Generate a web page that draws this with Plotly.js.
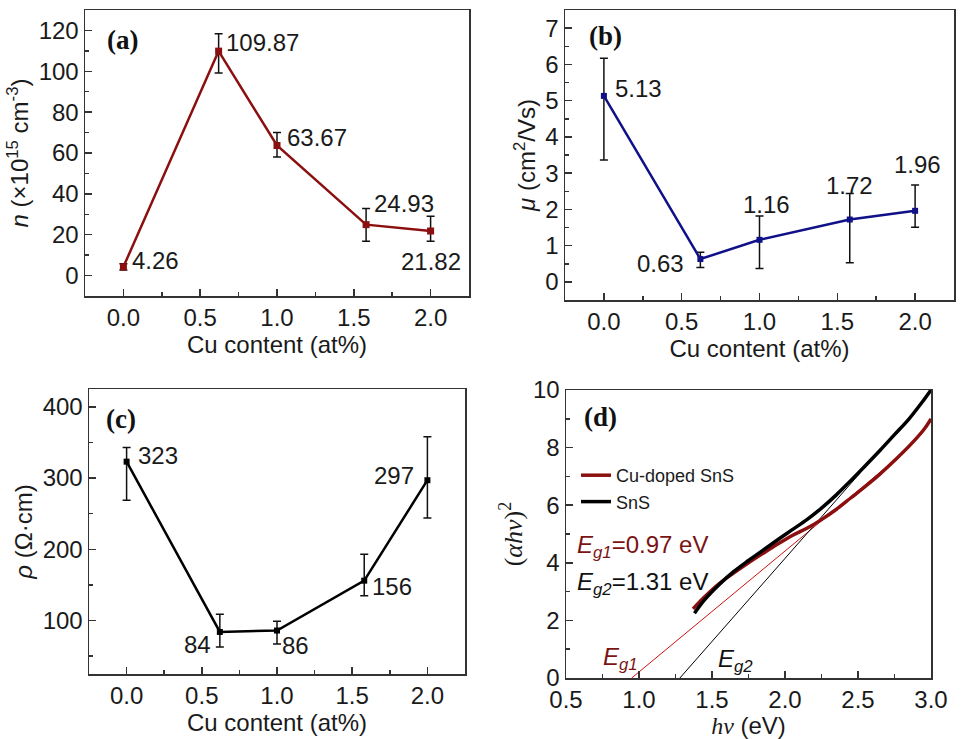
<!DOCTYPE html>
<html>
<head>
<meta charset="utf-8">
<script src="https://cdn.plot.ly/plotly-3.0.1.min.js"></script>
<style>html,body{margin:0;padding:0;background:#fff;}#chart{width:962px;height:739px;}</style>
</head>
<body>
<div id="chart"></div>
<script>
// ---- data ----
const cuContent = [0, 0.62, 1.0, 1.58, 2.0];

const carrierN = [4.26, 109.87, 63.67, 24.93, 21.82];
const carrierNErrPlus = [1.5, 8.5, 6.4, 7.9, 7.2];
const carrierNErrMinus = [1.5, 10.7, 5.6, 8.1, 5.0];
const carrierNLabels = ["4.26", "109.87", "63.67", "24.93", "21.82"];

const mobility = [5.13, 0.63, 1.16, 1.72, 1.96];
const mobilityErrPlus = [1.04, 0.19, 0.66, 0.72, 0.71];
const mobilityErrMinus = [1.77, 0.23, 0.79, 1.19, 0.45];
const mobilityLabels = ["5.13", "0.63", "1.16", "1.72", "1.96"];

const resistivity = [323, 84, 86, 156, 297];
const resistivityErrPlus = [20, 25, 13, 37, 61];
const resistivityErrMinus = [54, 21, 19, 21, 53];
const resistivityLabels = ["323", "84", "86", "156", "297"];

const hvSnS = [1.38, 1.45, 1.55, 1.65, 1.75, 1.85, 1.95, 2.05, 2.15, 2.25, 2.35, 2.45, 2.55, 2.65, 2.75, 2.85, 2.95, 3.0];
const taucSnS = [2.25, 2.72, 3.25, 3.7, 4.08, 4.44, 4.8, 5.15, 5.5, 5.9, 6.35, 6.85, 7.37, 7.9, 8.45, 9.0, 9.65, 10.0];
const hvCu = [1.37, 1.45, 1.55, 1.65, 1.75, 1.85, 1.95, 2.05, 2.15, 2.25, 2.35, 2.45, 2.55, 2.65, 2.75, 2.85, 2.95, 3.0];
const taucCu = [2.4, 2.82, 3.28, 3.65, 4.0, 4.33, 4.65, 4.95, 5.2, 5.5, 5.85, 6.25, 6.65, 7.08, 7.55, 8.05, 8.62, 9.0];
const fitCuX = [0.95, 2.82];
const fitCuY = [0, 7.85];
const fitSnSX = [1.28, 2.52];
const fitSnSY = [0, 7.15];

// ---- styles ----
const SANS = 'Arial, "Liberation Sans", sans-serif';
const SERIF = '"Times New Roman", "Liberation Serif", serif';
const RED = '#8c0f0f';
const BLUE = '#101088';
const AX = '#333333';
const TXT = '#1a1a1a';
const FS = 24;

function eb(plus, minus) {
  return {type: 'data', symmetric: false, array: plus, arrayminus: minus,
          color: '#111', thickness: 1.5, width: 4};
}

const traces = [
  {x: cuContent, y: carrierN, xaxis: 'x', yaxis: 'y', type: 'scatter', mode: 'lines+markers',
   line: {color: RED, width: 2.5}, marker: {symbol: 'square', size: 7, color: RED},
   error_y: eb(carrierNErrPlus, carrierNErrMinus), showlegend: false},
  {x: cuContent, y: mobility, xaxis: 'x2', yaxis: 'y2', type: 'scatter', mode: 'lines+markers',
   line: {color: BLUE, width: 2.5}, marker: {symbol: 'square', size: 6, color: BLUE},
   error_y: eb(mobilityErrPlus, mobilityErrMinus), showlegend: false},
  {x: cuContent, y: resistivity, xaxis: 'x3', yaxis: 'y3', type: 'scatter', mode: 'lines+markers',
   line: {color: '#000', width: 2.5}, marker: {symbol: 'square', size: 6, color: '#000'},
   error_y: eb(resistivityErrPlus, resistivityErrMinus), showlegend: false},
  {x: fitCuX, y: fitCuY, xaxis: 'x4', yaxis: 'y4', type: 'scatter', mode: 'lines',
   line: {color: '#cc1111', width: 1}, showlegend: false},
  {x: fitSnSX, y: fitSnSY, xaxis: 'x4', yaxis: 'y4', type: 'scatter', mode: 'lines',
   line: {color: '#000', width: 1}, showlegend: false},
  {x: hvCu, y: taucCu, xaxis: 'x4', yaxis: 'y4', type: 'scatter', mode: 'lines', name: 'Cu-doped SnS',
   line: {color: RED, width: 3.5, shape: 'spline', smoothing: 1}},
  {x: hvSnS, y: taucSnS, xaxis: 'x4', yaxis: 'y4', type: 'scatter', mode: 'lines', name: 'SnS',
   line: {color: '#000', width: 3.5, shape: 'spline', smoothing: 1}}
];

function axis(extra) {
  const base = {showline: true, mirror: true, linecolor: AX, linewidth: 1.5,
    ticks: 'inside', ticklen: 7, tickwidth: 1.5, tickcolor: AX,
    showgrid: false, zeroline: false,
    tickfont: {family: SANS, size: FS, color: TXT}};
  return Object.assign(base, extra);
}
function minor(d) { return {ticks: 'inside', ticklen: 4, tickwidth: 1.5, tickcolor: AX, dtick: d, showgrid: false}; }
const W = 962, H = 739;
const px = v => v / W, py = v => 1 - v / H;
const xTitle = t => ({text: t, font: {family: SANS, size: FS, color: TXT}, standoff: 4});
const yTitle = (t, fam, sz) => ({text: t, font: {family: fam || SANS, size: sz || FS, color: TXT}, standoff: 3});

const layout = {
  width: W, height: H, margin: {l: 0, r: 0, t: 0, b: 0},
  paper_bgcolor: '#fff', plot_bgcolor: '#fff',
  font: {family: SANS, size: FS, color: TXT},
  xaxis: axis({domain: [px(85), px(469)], anchor: 'y', range: [-0.25, 2.25], dtick: 0.5, tickformat: '.1f',
    minor: minor(0.25), title: xTitle('Cu content (at%)')}),
  yaxis: axis({domain: [py(296), py(10)], anchor: 'x', range: [-10, 130], dtick: 20,
    minor: minor(10), title: yTitle('<i>n</i> (×10<sup>15</sup> cm<sup>-3</sup>)')}),
  xaxis2: axis({domain: [px(565), px(954)], anchor: 'y2', range: [-0.25, 2.25], dtick: 0.5, tickformat: '.1f',
    minor: minor(0.25), title: xTitle('Cu content (at%)')}),
  yaxis2: axis({domain: [py(300), py(10)], anchor: 'x2', range: [-0.5, 7.5], dtick: 1,
    minor: minor(0.5), title: yTitle('<i>μ</i> (cm<sup>2</sup>/Vs)')}),
  xaxis3: axis({domain: [px(89), px(465)], anchor: 'y3', range: [-0.25, 2.25], dtick: 0.5, tickformat: '.1f',
    minor: minor(0.25), title: xTitle('Cu content (at%)')}),
  yaxis3: axis({domain: [py(674), py(389)], anchor: 'x3', range: [25, 425], dtick: 100, tick0: 0,
    minor: minor(50), title: yTitle('<i>ρ</i> (Ω·cm)')}),
  xaxis4: axis({domain: [px(566), px(931)], anchor: 'y4', range: [0.5, 3.0], dtick: 0.5, tickformat: '.1f',
    minor: minor(0.25),
    title: xTitle('<span style="font-family:Times New Roman, Liberation Serif"><i>hν</i></span> (eV)')}),
  yaxis4: axis({domain: [py(678), py(390)], anchor: 'x4', range: [0, 10], dtick: 2,
    minor: minor(1), title: yTitle('(<i>αhν</i>)<sup>2</sup>', SERIF, 26)}),
  legend: {x: px(576), y: py(457), xanchor: 'left', yanchor: 'top', bgcolor: 'rgba(0,0,0,0)',
    font: {family: SANS, size: 18, color: TXT}, tracegroupgap: 0, itemwidth: 30},
  annotations: []
};

const ann = layout.annotations;
function label(text, x, y) {
  ann.push({text: '<b>' + text + '</b>', xref: 'paper', yref: 'paper', x: px(x), y: py(y),
    xanchor: 'center', yanchor: 'middle', showarrow: false,
    font: {family: SERIF, size: 27, color: '#111'}});
}
label('(a)', 122, 40); label('(b)', 605, 36); label('(c)', 121, 419); label('(d)', 600, 417);

function dlab(xr, yr, i, xs, ys, xa, texts, xv, yv) {
  ann.push({text: texts[i], xref: xr, yref: yr, x: xv[i], y: yv[i], xanchor: xa, yanchor: 'middle',
    xshift: xs, yshift: ys, showarrow: false, font: {family: SANS, size: FS, color: TXT}});
}
// (a)
dlab('x', 'y', 0, 7, 6, 'left', carrierNLabels, cuContent, carrierN);
dlab('x', 'y', 1, 5, 9, 'left', carrierNLabels, cuContent, carrierN);
dlab('x', 'y', 2, 8, 8, 'left', carrierNLabels, cuContent, carrierN);
dlab('x', 'y', 3, 6, 21, 'left', carrierNLabels, cuContent, carrierN);
dlab('x', 'y', 4, 0, -30, 'center', carrierNLabels, cuContent, carrierN);
// (b)
dlab('x2', 'y2', 0, 9, 7, 'left', mobilityLabels, cuContent, mobility);
dlab('x2', 'y2', 1, -14, -4, 'right', mobilityLabels, cuContent, mobility);
dlab('x2', 'y2', 2, 7, 35, 'center', mobilityLabels, cuContent, mobility);
dlab('x2', 'y2', 3, 0, 34, 'center', mobilityLabels, cuContent, mobility);
dlab('x2', 'y2', 4, 2, 46, 'center', mobilityLabels, cuContent, mobility);
// (c)
dlab('x3', 'y3', 0, 9, 6, 'left', resistivityLabels, cuContent, resistivity);
dlab('x3', 'y3', 1, -7, -13, 'right', resistivityLabels, cuContent, resistivity);
dlab('x3', 'y3', 2, 3, -15, 'left', resistivityLabels, cuContent, resistivity);
dlab('x3', 'y3', 3, 6, -6, 'left', resistivityLabels, cuContent, resistivity);
dlab('x3', 'y3', 4, -11, 5, 'right', resistivityLabels, cuContent, resistivity);
// (d)
const EG_RED = '#7a1414';
ann.push({text: '<i>E</i><sub><i>g1</i></sub>=0.97 eV', xref: 'x4', yref: 'y4', x: 0.56, y: 4.55,
  xanchor: 'left', yanchor: 'middle', showarrow: false, font: {family: SANS, size: FS, color: EG_RED}});
ann.push({text: '<i>E</i><sub><i>g2</i></sub>=1.31 eV', xref: 'x4', yref: 'y4', x: 0.56, y: 3.27,
  xanchor: 'left', yanchor: 'middle', showarrow: false, font: {family: SANS, size: FS, color: '#111'}});
ann.push({text: '<i>E</i><sub><i>g1</i></sub>', xref: 'x4', yref: 'y4', x: 0.74, y: 0.66,
  xanchor: 'left', yanchor: 'middle', showarrow: false, font: {family: SANS, size: FS, color: EG_RED}});
ann.push({text: '<i>E</i><sub><i>g2</i></sub>', xref: 'x4', yref: 'y4', x: 1.53, y: 0.62,
  xanchor: 'left', yanchor: 'middle', showarrow: false, font: {family: SANS, size: FS, color: '#111'}});

Plotly.newPlot('chart', traces, layout, {staticPlot: true, displayModeBar: false});
</script>
</body>
</html>
